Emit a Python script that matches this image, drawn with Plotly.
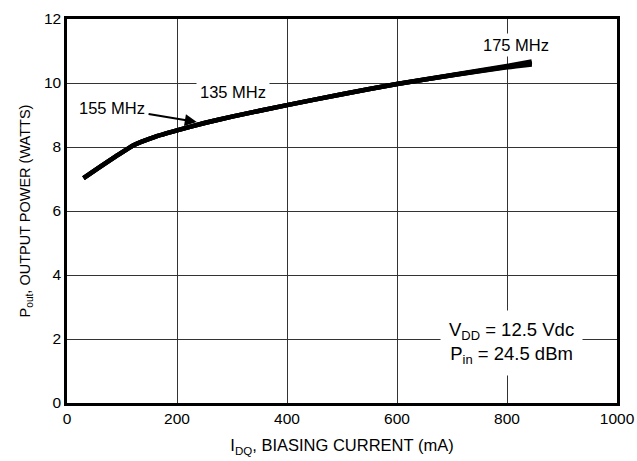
import plotly.graph_objects as go

# Output power vs biasing current (three frequencies nearly coincide)
idq_ma = [30, 60, 90, 120, 160, 200, 250, 300, 400, 500, 600, 700, 800, 845]
pout_135 = [7.03, 7.38, 7.72, 8.05, 8.32, 8.52, 8.75, 8.95, 9.31, 9.65, 9.97, 10.24, 10.49, 10.58]
pout_155 = [7.03, 7.38, 7.72, 8.05, 8.32, 8.52, 8.75, 8.95, 9.31, 9.65, 9.97, 10.24, 10.51, 10.62]
pout_175 = [7.03, 7.38, 7.72, 8.05, 8.32, 8.52, 8.75, 8.95, 9.31, 9.65, 9.97, 10.25, 10.53, 10.67]

FONT = "Liberation Sans Narrow, Arial Narrow, Liberation Sans, Arial"

fig = go.Figure()
for name, vals in [("135 MHz", pout_135), ("155 MHz", pout_155), ("175 MHz", pout_175)]:
    fig.add_trace(go.Scatter(
        x=idq_ma, y=vals, mode="lines", name=name,
        line=dict(color="black", width=4.5, shape="spline", smoothing=0.4),
        showlegend=False,
    ))

# frequency labels
fig.add_annotation(x=816, y=11.19, text="175 MHz", showarrow=False,
                   bgcolor="white", borderpad=2, font=dict(size=16.5))
fig.add_annotation(x=302, y=9.72, text="135 MHz", showarrow=False,
                   bgcolor="white", borderpad=3, font=dict(size=16.5))
fig.add_annotation(x=236, y=8.78, ax=82, ay=9.22, axref="x", ayref="y",
                   text="155 MHz", showarrow=True, arrowhead=2, arrowsize=1.2,
                   arrowwidth=2, arrowcolor="black", standoff=0, startstandoff=2,
                   font=dict(size=16.5))

# conditions box
fig.add_annotation(x=809, y=1.89, align="center",
                   text="V<sub>DD</sub> = 12.5 Vdc<br>P<sub>in</sub> = 24.5 dBm",
                   showarrow=False, bgcolor="white", borderpad=8,
                   font=dict(size=18.5))

axis_style = dict(showgrid=True, gridcolor="#333333", gridwidth=1.3,
                  showline=True, linecolor="black", linewidth=2.5, mirror=True,
                  zeroline=False, ticks="", automargin=False,
                  tickfont=dict(size=15.5, color="black"))

fig.update_xaxes(range=[0, 1000], dtick=200, **axis_style,
                 title=dict(text="I<sub>DQ</sub>, BIASING CURRENT (mA)",
                            font=dict(size=16.5, color="black"), standoff=14))
fig.update_yaxes(range=[0, 12], dtick=2, **axis_style,
                 title=dict(text="P<sub>out</sub>, OUTPUT POWER (WATTS)",
                            font=dict(size=14.5, color="black"), standoff=10))

fig.update_layout(
    width=637, height=461,
    margin=dict(l=67, r=20, t=19, b=58),
    plot_bgcolor="white", paper_bgcolor="white",
    font=dict(family=FONT, size=16, color="black"),
)

# drop the default page margin so the figure fills the window exactly
fig.write_html("out.html", config={"displayModeBar": False},
               post_script="document.body.style.margin='0';"
                           "document.body.style.overflow='hidden';")
